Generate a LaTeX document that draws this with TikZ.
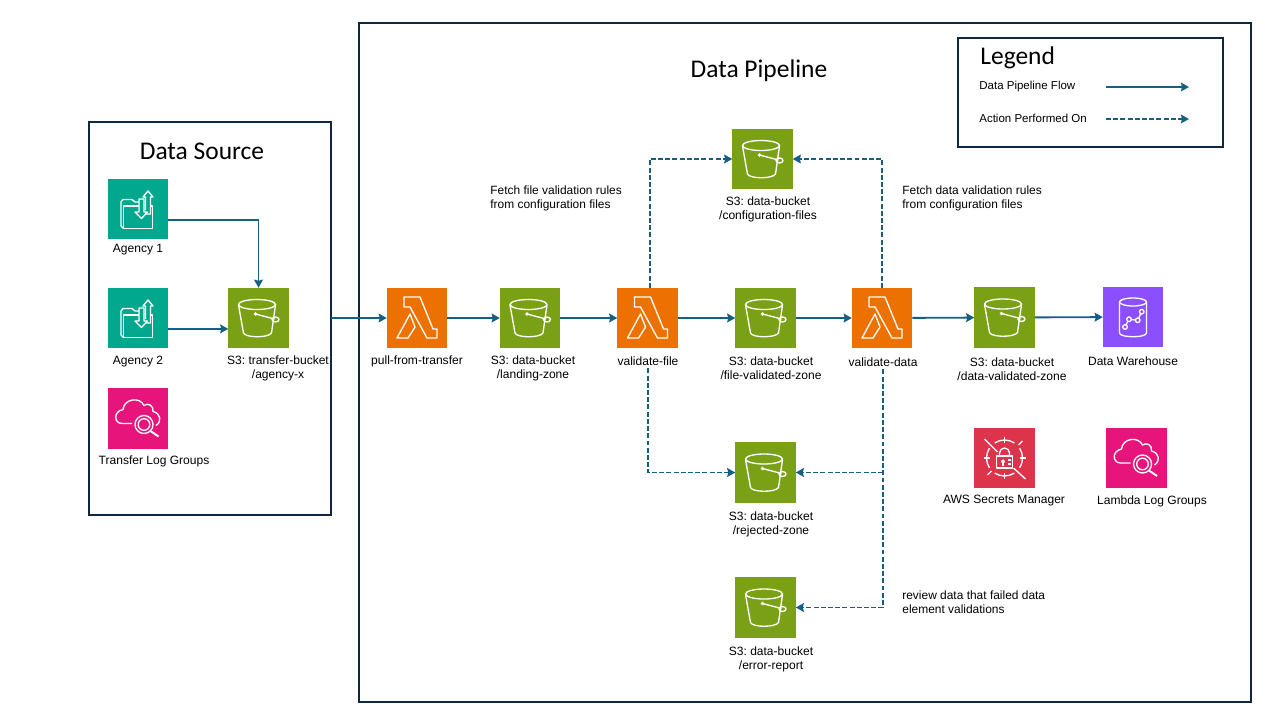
\documentclass[tikz,border=0pt]{standalone}
\usepackage{fontspec}
\setmainfont{Liberation Sans}
\newfontfamily\titlefont{Carlito}
\usetikzlibrary{arrows.meta}
\definecolor{s3green}{HTML}{7AA116}
\definecolor{lambdaorange}{HTML}{ED7100}
\definecolor{agencyteal}{HTML}{01A88D}
\definecolor{logpink}{HTML}{E7157B}
\definecolor{dwpurple}{HTML}{8C4FFF}
\definecolor{secretred}{HTML}{DD344C}
\definecolor{flowblue}{HTML}{156082}
\definecolor{framedark}{HTML}{0E2841}
\tikzset{
    iconbox/.style={minimum size=1.21cm,inner sep=0pt,outer sep=0pt},
    framebox/.style={draw=framedark,line width=1.1pt,inner sep=0pt,outer sep=0pt},
    caption/.style={font=\fontsize{6.85}{7.9}\selectfont\frenchspacing,align=center,inner sep=0pt,yshift=-0.6pt},
    notetext/.style={font=\fontsize{6.8}{7.9}\selectfont\frenchspacing,align=left,anchor=west,inner sep=0pt,yshift=-0.8pt},
    legendtext/.style={notetext,font=\fontsize{6.55}{7.9}\selectfont,yshift=0.3pt},
    titletext/.style={font=\titlefont\fontsize{14.5}{16}\selectfont,inner sep=0pt,yshift=-0.7pt},
    flowarrow/.style={draw=flowblue,line width=1.05pt,-{Stealth[length=4.6pt,width=5pt,inset=0.6pt]}},
    actionarrow/.style={flowarrow,dash pattern=on 2.8pt off 1.3pt},
    iconline/.style={draw=white,line width=0.75pt,line join=round},
    bucket/.pic={
        \draw[iconline] (-1.5,-13.5) ellipse (18.5 and 5);
        \draw[iconline] (-20,-13) -- (-15,15) .. controls (-13,20) and (10,20) .. (13,15) -- (17,-13);
        \draw[iconline] (-3,-4) -- (16,1);
        \draw[iconline] (17,1.5) ellipse (3.5 and 2.5);
        \fill[white] (-3,-4) circle (1.8);
    },
    lambdaglyph/.pic={
        \draw[iconline] (-13,-21) -- (3,-21) -- (16,11) -- (20,11) -- (20,20) -- (10,20) -- (-7,-11) -- (-13,-11) -- cycle;
        \draw[iconline] (-20,20) -- (-7,-4) -- (-2,9) -- (-9,20) -- cycle;
    },
    transferglyph/.pic={
        \draw[iconline] (-14.7,19.3) -- (-17,17) -- (-17,-7) -- (-15,-9.5) -- (-6,-9.5) -- (-3,-7) -- (1,-7);
        \draw[iconline] (-14.7,-3) -- (1,-3);
        \draw[iconline] (-14.7,-3) -- (-14.7,19.3) -- (14.7,19.3) -- (14.7,-3) -- (12.5,-3);
        \draw[iconline] (7.5,1) -- (7.5,-12) -- (5,-12) -- (10,-18) -- (15,-12) -- (12.5,-12) -- (12.5,5) -- (7,5);
        \draw[iconline] (3.5,9.5) -- (-3,3) -- (1,3) -- (1,-10) -- (6,-10) -- (6,3) -- (9.5,3) -- cycle;
    },
    logglyph/.pic={
        \draw[iconline] (-6,5) -- (-16,5) .. controls (-24,5) and (-25,-7) .. (-15,-9)
            .. controls (-14,-20) and (2,-22) .. (6,-13)
            .. controls (10,-16) and (16,-13) .. (15,-7)
            .. controls (23,-5) and (24,3) .. (18,7);
        \draw[iconline] (6,6) circle (9);
        \draw[iconline] (6,6) circle (5.8);
        \draw[iconline,line width=1.1pt] (12.5,12.5) -- (20.5,18);
    },
    warehouseglyph/.pic={
        \draw[iconline] (0,-15) ellipse (13.5 and 4);
        \draw[iconline] (-13.5,-15) -- (-13.5,16) .. controls (-13,21) and (13,21) .. (13.5,16) -- (13.5,-15);
        \draw[iconline] (-8,10) -- (-4,2.3) -- (4.7,3.3) -- (8.7,-5.3);
        \foreach \p in {(-8,10),(-4,2.3),(4.7,3.3),(8.7,-5.3)}
            \filldraw[iconline,fill=dwpurple] \p circle (2.3);
    },
    secretglyph/.pic={
        \foreach \a in {0,90,180,270} {
            \draw[iconline] (\a:18) arc (\a:\a+33:18);
            \draw[iconline] (\a+57:18) arc (\a+57:\a+90:18);
        }
        \draw[iconline] (-20,-19) -- (-7,-6);
        \draw[iconline] (21,21) -- (9,10);
        \draw[iconline] (18,-17) -- (14,-13);
        \draw[iconline] (-17,17) -- (-13,13);
        \draw[iconline] (0,-21) -- (0,-15);
        \draw[iconline] (0,21) -- (0,15);
        \draw[iconline] (-21,0) -- (-15,0);
        \draw[iconline] (21,0) -- (15,0);
        \draw[iconline] (-8,-2) rectangle (8,10);
        \draw[iconline] (-5,-2) -- (-5,-5) arc (180:360:5) -- (5,-2);
        \draw[iconline] (-1.5,3.5) circle (1.5);
        \draw[iconline] (-1.5,5) -- (-1.5,7.5);
        \draw[iconline] (3.5,2) -- (6,2);
        \draw[iconline] (3.5,6) -- (6,6);
    },
}
\begin{document}
\begin{tikzpicture}[x=0.02cm,y=-0.02cm]
    \useasboundingbox (0,0) rectangle (1280,720);

    % draw frames
    \node[framebox,minimum width=4.84cm,minimum height=7.86cm] (sourcebox) at (210,318.5) {};
    \node[framebox,minimum width=17.84cm,minimum height=13.58cm] (pipelinebox) at (805,362.5) {};
    \node[framebox,minimum width=5.3cm,minimum height=2.18cm] (legendbox) at (1090.5,92.5) {};

    % draw titles
    \node[titletext] (sourcetitle) at (202,150) {Data Source};
    \node[titletext] (pipelinetitle) at (759,69) {Data Pipeline};
    \node[titletext,anchor=west] (legendtitle) at (980,57) {Legend};

    % draw icons
    \node[iconbox,fill=agencyteal] (agencyone) at (138,209) {};
    \node[iconbox,fill=agencyteal] (agencytwo) at (138,318) {};
    \node[iconbox,fill=logpink] (transferlogs) at (138,418.5) {};
    \node[iconbox,fill=s3green] (transferbucket) at (258.5,318) {};
    \node[iconbox,fill=lambdaorange] (pull) at (417,318) {};
    \node[iconbox,fill=s3green] (landing) at (530,318) {};
    \node[iconbox,fill=lambdaorange] (vfile) at (647.5,318) {};
    \node[iconbox,fill=s3green] (filezone) at (765.5,318) {};
    \node[iconbox,fill=lambdaorange] (vdata) at (882,318) {};
    \node[iconbox,fill=s3green] (datazone) at (1004.5,317.5) {};
    \node[iconbox,fill=dwpurple] (warehouse) at (1133,317) {};
    \node[iconbox,fill=s3green] (config) at (762.5,159) {};
    \node[iconbox,fill=s3green] (rejected) at (765.5,472.5) {};
    \node[iconbox,fill=s3green] (errorreport) at (765.5,607.5) {};
    \node[iconbox,fill=secretred] (secrets) at (1004.5,458) {};
    \node[iconbox,fill=logpink] (lambdalogs) at (1136.5,458) {};

    % draw glyphs
    \foreach \n in {transferbucket,landing,filezone,datazone,config,rejected,errorreport}
        \pic at (\n) {bucket};
    \foreach \n in {pull,vfile,vdata}
        \pic at (\n) {lambdaglyph};
    \foreach \n in {agencyone,agencytwo}
        \pic at (\n) {transferglyph};
    \foreach \n in {transferlogs,lambdalogs}
        \pic at (\n) {logglyph};
    \pic at (warehouse) {warehouseglyph};
    \pic at (secrets) {secretglyph};

    % draw captions
    \node[caption] (agencyonetext) at (138,249) {Agency 1};
    \node[caption] (agencytwotext) at (138,360) {Agency 2};
    \node[caption] (transferlogstext) at (154,460) {Transfer Log Groups};
    \node[caption] (transferbuckettext) at (278,367) {S3: transfer-bucket\\/agency-x};
    \node[caption] (pulltext) at (417,360) {pull-from-transfer};
    \node[caption] (landingtext) at (533,367) {S3: data-bucket\\/landing-zone};
    \node[caption] (vfiletext) at (648,360) {validate-file};
    \node[caption] (filezonetext) at (771,367) {S3: data-bucket\\/file-validated-zone};
    \node[caption] (vdatatext) at (883,361) {validate-data};
    \node[caption] (datazonetext) at (1012,368) {S3: data-bucket\\/data-validated-zone};
    \node[caption] (warehousetext) at (1133,360) {Data Warehouse};
    \node[caption] (configtext) at (768,208) {S3: data-bucket\\/configuration-files};
    \node[caption] (rejectedtext) at (771,523) {S3: data-bucket\\/rejected-zone};
    \node[caption] (errortext) at (771,658) {S3: data-bucket\\/error-report};
    \node[caption] (secretstext) at (1004,499) {AWS Secrets Manager};
    \node[caption] (lambdalogstext) at (1152,500) {Lambda Log Groups};

    % draw notes
    \node[notetext] (fetchfile) at (490,197) {Fetch file validation rules\\from configuration files};
    \node[notetext] (fetchdata) at (902,197) {Fetch data validation rules\\from configuration files};
    \node[notetext] (reviewdata) at (902,601) {review data that failed data\\element validations};

    % draw flow
    \draw[flowarrow] ([yshift=-6.2pt]agencyone.east) -| (transferbucket.north);
    \draw[flowarrow] ([yshift=-6.2pt]agencytwo.east) -- ([yshift=-6.2pt]transferbucket.west);
    \draw[flowarrow] (sourcebox.east |- pull.west) -- (pull.west);
    \draw[flowarrow] (pull) -- (landing);
    \draw[flowarrow] (landing) -- (vfile);
    \draw[flowarrow] (vfile) -- (filezone);
    \draw[flowarrow] (filezone) -- (vdata);
    \draw[flowarrow] (vdata) -- (datazone);
    \draw[flowarrow] (datazone) -- (warehouse);

    % draw actions
    \draw[actionarrow] ([xshift=1.4pt]vfile.north) |- (config.west);
    \draw[actionarrow] (vdata.north) |- (config.east);
    \draw[actionarrow,shorten <=1.5pt] (vfiletext.south) |- (rejected.west);
    \draw[actionarrow,shorten <=1.5pt] (vdatatext.south) |- (errorreport.east);
    \draw[actionarrow] (vdatatext.south |- rejected.east) -- (rejected.east);

    % draw legend
    \node[legendtext] (flowtext) at (979,86) {Data Pipeline Flow};
    \node[legendtext] (actiontext) at (979,118) {Action Performed On};
    \coordinate (flowstart) at (1106,87);
    \coordinate (flowend) at (1189,87);
    \coordinate (actionstart) at (1106,119);
    \coordinate (actionend) at (1189,119);
    \draw[flowarrow] (flowstart) -- (flowend);
    \draw[actionarrow] (actionstart) -- (actionend);
\end{tikzpicture}
\end{document}
